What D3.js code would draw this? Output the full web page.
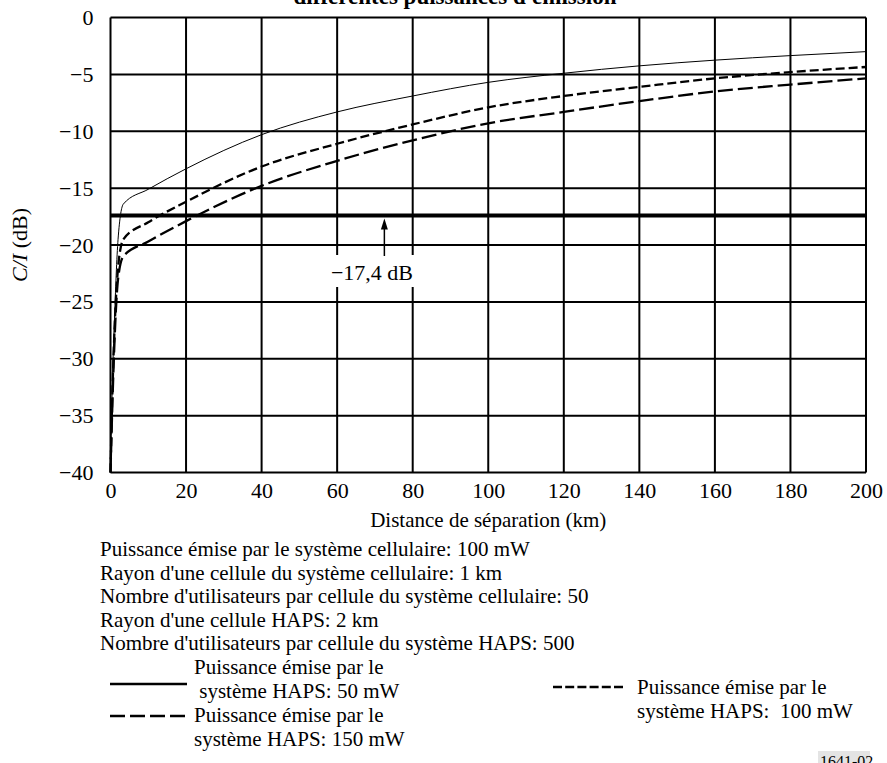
<!DOCTYPE html>
<html>
  <head>
    <meta charset="utf-8">
    <style>
      body {
        margin: 0;
        background-color: white;
      }
      text {
        font-family: "Liberation Serif", "Times New Roman", serif;
        fill: black;
      }
    </style>
    <script src="https://d3js.org/d3.v7.min.js"></script>
  </head>
  <body>
    <script>
    var width = 887;
    var height = 763;

    // distance (km) and C/I (dB)
    var distance = [0, 0.5, 1, 2, 3.4, 10, 20, 40, 60, 80, 100, 120, 140, 160, 180, 200];
    var haps50 = [-40, -32, -27, -19.5, -16.4, -15.1, -13.3, -10.3, -8.3, -6.9, -5.7, -4.9, -4.25, -3.75, -3.35, -3.0];
    var haps100 = [-40, -33, -28, -22, -19.5, -18.0, -16.2, -13.1, -11.1, -9.4, -7.9, -6.9, -6.1, -5.35, -4.8, -4.35];
    var haps150 = [-40, -34, -29, -23, -21.0, -19.7, -17.9, -14.8, -12.6, -10.8, -9.3, -8.3, -7.35, -6.5, -5.9, -5.35];
    var threshold = -17.4;

    var xTicks = [0, 20, 40, 60, 80, 100, 120, 140, 160, 180, 200];
    var yTicks = [0, -5, -10, -15, -20, -25, -30, -35, -40];

    var notes = [
      "Puissance émise par le système cellulaire: 100 mW",
      "Rayon d'une cellule du système cellulaire: 1 km",
      "Nombre d'utilisateurs par cellule du système cellulaire: 50",
      "Rayon d'une cellule HAPS: 2 km",
      "Nombre d'utilisateurs par cellule du système HAPS: 500"
    ];

    var plot = {left: 110.5, right: 866, top: 17.5, bottom: 472.5};

    let xScale = d3.scaleLinear()
      .domain([0, 200])
      .range([plot.left, plot.right]);
    let yScale = d3.scaleLinear()
      .domain([-40, 0])
      .range([plot.bottom, plot.top]);

    const svg = d3.select("body").append("svg")
      .attr("width", width)
      .attr("height", height);

    // title, mostly cut off by the top edge
    svg.append("text")
      .attr("x", 455)
      .attr("y", 3.5)
      .attr("text-anchor", "middle")
      .style("font-size", "23px")
      .style("font-weight", "bold")
      .text("différentes puissances d'émission");

    var grid = svg.append("g").attr("class", "grid");
    grid.selectAll("line.v")
      .data(xTicks)
      .enter().append("line")
        .attr("class", "v")
        .attr("x1", (d) => xScale(d))
        .attr("x2", (d) => xScale(d))
        .attr("y1", plot.top)
        .attr("y2", plot.bottom)
        .attr("stroke", "black")
        .attr("stroke-width", 2);
    grid.selectAll("line.h")
      .data(yTicks)
      .enter().append("line")
        .attr("class", "h")
        .attr("x1", plot.left)
        .attr("x2", plot.right)
        .attr("y1", (d) => yScale(d))
        .attr("y2", (d) => yScale(d))
        .attr("stroke", "black")
        .attr("stroke-width", 2);

    // axes (labels only, the grid draws the frame)
    var xAxis = svg.append("g")
      .attr("transform", "translate(0," + plot.bottom + ")")
      .call(d3.axisBottom(xScale).tickValues(xTicks).tickSize(0).tickPadding(10));
    var yAxis = svg.append("g")
      .attr("transform", "translate(" + plot.left + ",0)")
      .call(d3.axisLeft(yScale).tickValues(yTicks).tickSize(0).tickPadding(17));
    [xAxis, yAxis].forEach(function(a) {
      a.select(".domain").remove();
      a.selectAll("text")
        .style("font-family", "'Liberation Serif', serif")
        .style("font-size", "22px")
        .attr("fill", "black");
    });

    svg.append("text")
      .attr("x", (plot.left + plot.right) / 2)
      .attr("y", 527)
      .attr("text-anchor", "middle")
      .style("font-size", "21px")
      .text("Distance de séparation (km)");

    var yLabel = svg.append("text")
      .attr("transform", "translate(27," + (plot.top + plot.bottom) / 2 + ") rotate(-90)")
      .attr("text-anchor", "middle")
      .style("font-size", "22px");
    yLabel.append("tspan").style("font-style", "italic").text("C/I");
    yLabel.append("tspan").text(" (dB)");

    // threshold line
    svg.append("line")
      .attr("x1", plot.left)
      .attr("x2", plot.right)
      .attr("y1", yScale(threshold))
      .attr("y2", yScale(threshold))
      .attr("stroke", "black")
      .attr("stroke-width", 4);

    var line = d3.line()
      .x((d) => xScale(d[0]))
      .y((d) => yScale(d[1]))
      .curve(d3.curveMonotoneX);

    var series = [
      {values: haps50, width: 1, dash: null},
      {values: haps100, width: 2.3, dash: "9,4"},
      {values: haps150, width: 2.3, dash: "15,5"}
    ];

    svg.append("g")
        .attr("class", "curves")
      .selectAll("path")
      .data(series)
      .enter().append("path")
        .attr("d", (s) => line(distance.map((x, i) => [x, s.values[i]])))
        .attr("fill", "none")
        .attr("stroke", "black")
        .attr("stroke-width", (s) => s.width)
        .attr("stroke-dasharray", (s) => s.dash);

    // -17,4 dB annotation with white box over the grid
    var arrowX = xScale(72.5);
    svg.append("rect")
      .attr("x", 326)
      .attr("y", 255)
      .attr("width", 96)
      .attr("height", 32)
      .attr("fill", "white");
    svg.append("line")
      .attr("x1", arrowX)
      .attr("x2", arrowX)
      .attr("y1", 256)
      .attr("y2", yScale(threshold) + 12)
      .attr("stroke", "black")
      .attr("stroke-width", 1.5);
    svg.append("path")
      .attr("d", "M" + arrowX + "," + (yScale(threshold) + 3) +
        "L" + (arrowX - 3.5) + "," + (yScale(threshold) + 14) +
        "L" + (arrowX + 3.5) + "," + (yScale(threshold) + 14) + "Z")
      .attr("fill", "black");
    svg.append("text")
      .attr("x", 372)
      .attr("y", 280)
      .attr("text-anchor", "middle")
      .style("font-size", "22px")
      .text("−17,4 dB");

    // parameters
    svg.append("g")
      .selectAll("text")
      .data(notes)
      .enter().append("text")
        .attr("x", 100)
        .attr("y", (d, i) => 556 + i * 23.5)
        .style("font-size", "21px")
        .text((d) => d);

    // legend
    var legend = svg.append("g").attr("class", "legend");
    legend.append("line")
      .attr("x1", 110).attr("x2", 187)
      .attr("y1", 684).attr("y2", 684)
      .attr("stroke", "black").attr("stroke-width", 2.3);
    legend.append("text").attr("x", 194).attr("y", 674).style("font-size", "21px")
      .text("Puissance émise par le");
    legend.append("text").attr("x", 194).attr("y", 698).style("font-size", "21px")
      .attr("xml:space", "preserve")
      .text(" système HAPS: 50 mW");

    legend.append("line")
      .attr("x1", 110).attr("x2", 187)
      .attr("y1", 716).attr("y2", 716)
      .attr("stroke", "black").attr("stroke-width", 2.3)
      .attr("stroke-dasharray", "15,5");
    legend.append("text").attr("x", 194).attr("y", 722).style("font-size", "21px")
      .text("Puissance émise par le");
    legend.append("text").attr("x", 194).attr("y", 746).style("font-size", "21px")
      .text("système HAPS: 150 mW");

    legend.append("line")
      .attr("x1", 553).attr("x2", 623)
      .attr("y1", 687).attr("y2", 687)
      .attr("stroke", "black").attr("stroke-width", 2.3)
      .attr("stroke-dasharray", "9,3.2");
    legend.append("text").attr("x", 637).attr("y", 694).style("font-size", "21px")
      .text("Puissance émise par le");
    legend.append("text").attr("x", 637).attr("y", 718).style("font-size", "21px")
      .attr("xml:space", "preserve")
      .text("système HAPS:  100 mW");

    // figure number, cut by the bottom edge
    svg.append("rect")
      .attr("x", 818).attr("y", 751)
      .attr("width", 52).attr("height", 12)
      .attr("fill", "#e4e4e4");
    svg.append("text")
      .attr("x", 820).attr("y", 767)
      .style("font-size", "16px")
      .text("1641-02");
    </script>
  </body>
</html>
